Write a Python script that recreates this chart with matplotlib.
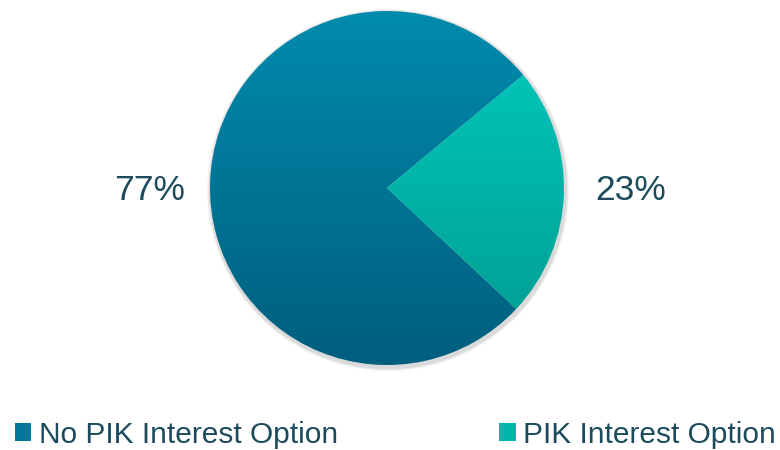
import numpy as np
import matplotlib
matplotlib.use("Agg")
import matplotlib.pyplot as plt
from matplotlib.colors import LinearSegmentedColormap
from matplotlib.patches import Patch, Circle

labels = ["No PIK Interest Option", "PIK Interest Option"]
shares = [77, 23]
top_colors = ["#008BAD", "#00CDC0"]
bottom_colors = ["#005E7E", "#009A8E"]
text_color = "#1B4B5C"

plt.rcParams["font.family"] = ["Liberation Sans", "DejaVu Sans"]

fig = plt.figure(figsize=(7.8, 4.5), dpi=100)
ax = fig.add_axes([0, 0, 1, 1])

cx, cy, r = 387, 262, 177

# soft shadow behind the pie
for k, a in [(4, 0.04), (3, 0.05), (2, 0.06)]:
    ax.add_patch(Circle((cx + 1, cy - 2), r + k, facecolor="black", alpha=a,
                        edgecolor="none", zorder=0))

wedges, _, autotexts = ax.pie(shares, startangle=39.7, counterclock=True,
                              center=(cx, cy), radius=r, frame=True,
                              autopct=lambda p: f"{p:.0f}%", pctdistance=1.36,
                              wedgeprops=dict(linewidth=0))

# vertical gradient fill clipped to each wedge
grad = np.linspace(0, 1, 256).reshape(-1, 1)
for w, ct, cb in zip(wedges, top_colors, bottom_colors):
    w.set_facecolor("none")
    cmap = LinearSegmentedColormap.from_list("g", [cb, ct])
    im = ax.imshow(grad, cmap=cmap, origin="lower", aspect="auto",
                   extent=(cx - r, cx + r, cy - r, cy + r), zorder=1)
    im.set_clip_path(w)

for t in autotexts:
    t.set_fontsize(25.5)
    t.set_color(text_color)
    x, _ = t.get_position()
    t.set_position((x + 3.5, cy - 3))

ax.set_xlim(0, 780)
ax.set_ylim(0, 450)
ax.set_aspect("equal")
ax.axis("off")

handles = [Patch(facecolor="#00789A"), Patch(facecolor="#00B5AA")]
leg = fig.legend(handles, labels, loc="lower left", bbox_to_anchor=(0.0, -0.03),
                 ncol=2, frameon=False, fontsize=21.5, handlelength=0.55,
                 handleheight=0.55, handletextpad=0.25, columnspacing=5.4,
                 borderaxespad=0.2, borderpad=0.3)
for t in leg.get_texts():
    t.set_color(text_color)

fig.savefig("out.png", dpi=100)
